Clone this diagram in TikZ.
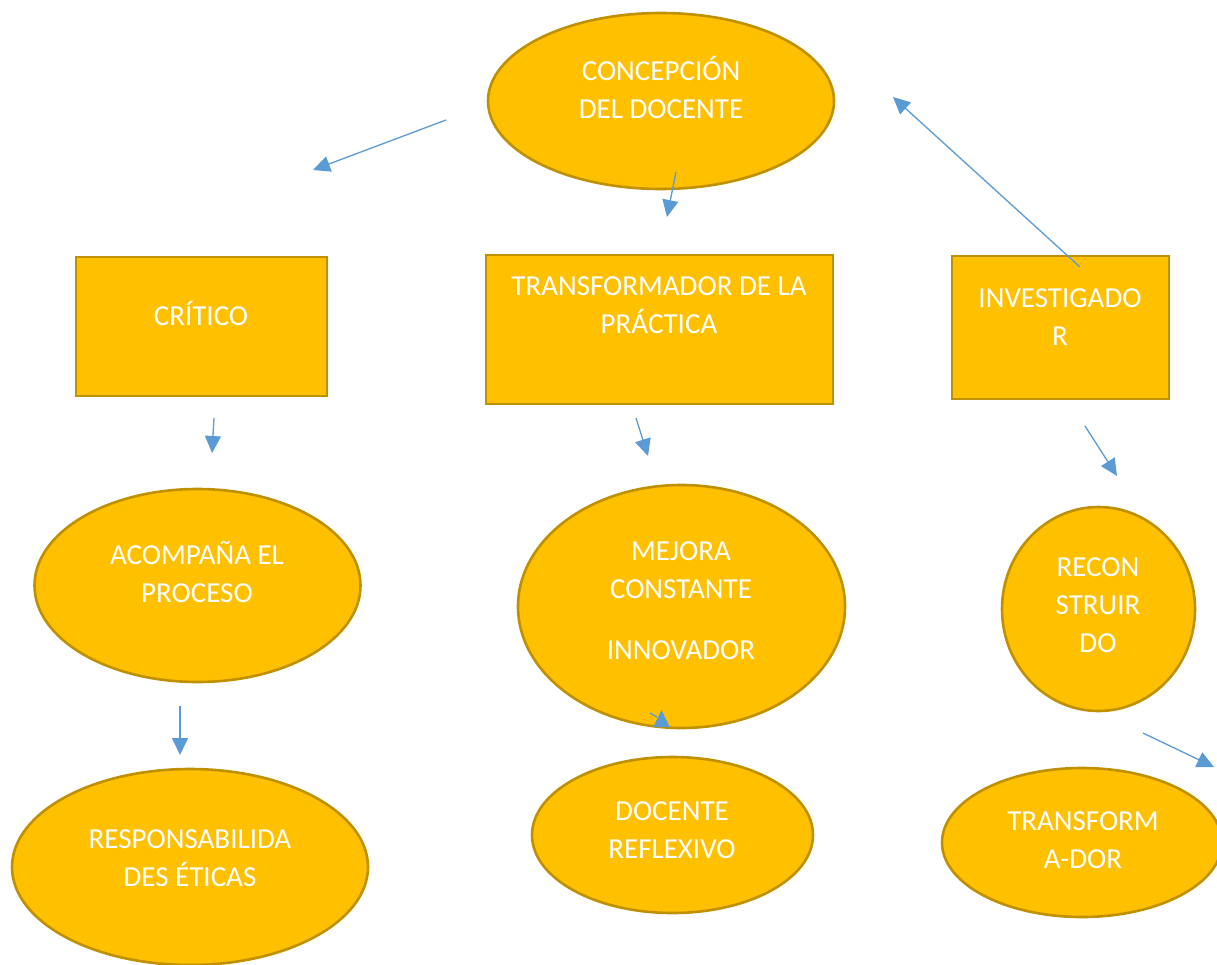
\documentclass[tikz,border=0pt]{standalone}
\usepackage{fontspec}
\setmainfont{Carlito}
\usetikzlibrary{shapes.geometric,arrows.meta}
\definecolor{gold}{HTML}{FFC000}
\definecolor{goldedge}{HTML}{BF9000}
\definecolor{arrowblue}{HTML}{5B9BD5}
\tikzset{
  shapebase/.style={fill=gold,draw=goldedge,line width=2.6pt,inner sep=0pt,outer sep=0pt},
  oval/.style={shapebase,ellipse},
  boxy/.style={shapebase,rectangle},
  lbl/.style={text=white,align=center,anchor=base,inner sep=0pt,font=\fontsize{29}{38}\selectfont},
  conn/.style={draw=arrowblue,line width=1.3pt,-{Triangle[length=17pt,width=16pt]}},
  plainconn/.style={draw=arrowblue,line width=1.3pt}
}
\begin{document}
\begin{tikzpicture}[x=1pt,y=-1pt]
\useasboundingbox (0,0) rectangle (1217,964);
% shapes
\node[oval,minimum width=346pt,minimum height=176pt] (concep) at (661,101) {};
\node[boxy,minimum width=251pt,minimum height=139pt] (critico) at (201.5,326.5) {};
\node[boxy,minimum width=347pt,minimum height=149pt] (transf) at (659.5,329.5) {};
\node[boxy,minimum width=217pt,minimum height=143pt] (invest) at (1060.5,327.5) {};
\node[oval,minimum width=326pt,minimum height=193pt] (acomp) at (197.5,585.5) {};
\node[oval,minimum width=327pt,minimum height=243pt] (mejora) at (681.5,606.5) {};
\node[oval,minimum width=193pt,minimum height=204pt] (recon) at (1098.5,609) {};
\node[oval,minimum width=356pt,minimum height=196pt] (respon) at (190,867) {};
\node[oval,minimum width=281pt,minimum height=156pt] (reflex) at (672.5,835) {};
\node[oval,minimum width=280pt,minimum height=149pt] (transfor) at (1082,842.5) {};
% texts (anchor=base is the baseline of the last line)
\node[lbl] (tconcep) at (661,118.5) {CONCEPCIÓN\\DEL DOCENTE};
\node[lbl] (tcritico) at (201,325.5) {CRÍTICO};
\node[lbl] (ttransf) at (659,333.5) {TRANSFORMADOR DE LA\\PRÁCTICA};
\node[lbl] (tinvest) at (1060,345.5) {INVESTIGADO\\R};
\node[lbl] (tacomp) at (197,602.5) {ACOMPAÑA EL\\PROCESO};
\node[lbl] (tmejora) at (681,598.5) {MEJORA\\CONSTANTE};
\node[lbl] (tinnov) at (681,659.5) {INNOVADOR};
\node[lbl] (trecon) at (1098,652.5) {RECON\\STRUIR\\DO};
\node[lbl] (trespon) at (190,886.5) {RESPONSABILIDA\\DES ÉTICAS};
\node[lbl] (treflex) at (672,858.5) {DOCENTE\\REFLEXIVO};
\node[lbl] (ttransfor) at (1083,868.5) {TRANSFORM\\A-DOR};
% arrow end points
\coordinate (a1s) at (446,120); \coordinate (a1e) at (313,170);
\coordinate (a2s) at (676,172); \coordinate (a2e) at (667,217);
\coordinate (a3s) at (1080,267); \coordinate (a3e) at (893,97);
\coordinate (a4s) at (214,418); \coordinate (a4e) at (212,453);
\coordinate (a5s) at (180,706); \coordinate (a5e) at (180,755);
\coordinate (a6s) at (636,418); \coordinate (a6e) at (648,456);
\coordinate (a7s) at (1085,426); \coordinate (a7e) at (1117,476);
\coordinate (a8s) at (650,713); \coordinate (a8m) at (657,717);
\coordinate (a8b) at (661.5,726); \coordinate (a8e) at (661.5,710);
\coordinate (a9s) at (1143,733); \coordinate (a9e) at (1214,767);
% arrows
\draw[conn] (a1s) -- (a1e);
\draw[conn] (a2s) -- (a2e);
\draw[conn] (a3s) -- (a3e);
\draw[conn] (a4s) -- (a4e);
\draw[conn] (a5s) -- (a5e);
\draw[conn] (a6s) -- (a6e);
\draw[conn] (a7s) -- (a7e);
\draw[plainconn] (a8s) -- (a8m);
\draw[conn] (a8b) -- (a8e);
\draw[conn] (a9s) -- (a9e);
\end{tikzpicture}
\end{document}
